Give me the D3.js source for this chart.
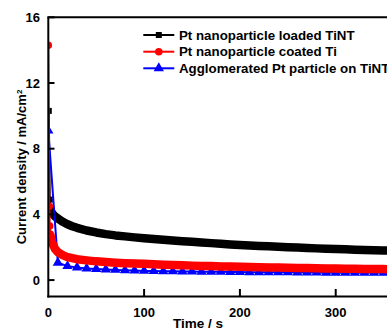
<!DOCTYPE html>
<html lang="en">
<head>
    <meta charset="UTF-8">
    <title>Current density vs time</title>
    <style>
        body {
            margin: 0;
            padding: 0;
            background: #fff;
            font-family: "Liberation Sans", Arial, sans-serif;
        }
        .axis-label, .tick-label, .legend-text {
            font-weight: bold;
            fill: #000;
        }
    </style>
</head>
<body>
    <div id="chart"></div>
    <script src="https://d3js.org/d3.v7.min.js"></script>
    <script>
        // Pt nanoparticle loaded TiNT (black squares)
        const blackTime = [0.5, 1.5, 2, 3, 5, 7, 10, 15, 20, 25, 30, 40, 50, 60, 70, 80, 90, 100, 110, 120, 130, 140, 150,
            160, 170, 180, 190, 200, 210, 220, 230, 240, 250, 260, 270, 280, 290, 300, 310, 320, 330, 340, 350, 360];
        const blackValue = [10.3, 4.9, 4.4, 4.15, 4.0, 3.88, 3.75, 3.55, 3.4, 3.28, 3.18, 3.02, 2.9, 2.8, 2.72, 2.66, 2.6, 2.55,
            2.5, 2.45, 2.41, 2.37, 2.33, 2.29, 2.25, 2.21, 2.17, 2.14, 2.11, 2.08, 2.06, 2.03, 2.0, 1.98, 1.96, 1.93, 1.91,
            1.89, 1.87, 1.85, 1.83, 1.82, 1.8, 1.79];

        // Pt nanoparticle coated Ti (red circles)
        const redTime = [0, 1, 1.5, 2, 3, 4, 5, 7, 10, 15, 20, 30, 40, 50, 60, 70, 80, 90, 100, 110, 120, 130, 140, 150,
            160, 170, 180, 190, 200, 210, 220, 230, 240, 250, 260, 270, 280, 290, 300, 310, 320, 330, 340, 350, 360];
        const redValue = [14.3, 4.5, 3.3, 2.8, 2.5, 2.3, 2.15, 1.9, 1.7, 1.52, 1.4, 1.27, 1.2, 1.14, 1.1, 1.06, 1.03, 1.01,
            0.99, 0.96, 0.94, 0.92, 0.9, 0.88, 0.86, 0.85, 0.83, 0.82, 0.81, 0.79, 0.78, 0.77, 0.76, 0.75, 0.74, 0.73, 0.72,
            0.71, 0.7, 0.69, 0.69, 0.68, 0.67, 0.67, 0.66];

        // Agglomerated Pt particle on TiNT (blue triangles)
        const blueTime = [0, 10, 20, 30, 40, 50, 60, 70, 80, 90, 100, 110, 120, 130, 140, 150, 160, 170, 180, 190, 200,
            210, 220, 230, 240, 250, 260, 270, 280, 290, 300, 310, 320, 330, 340, 350, 360];
        const blueValue = [9.1, 1.06, 0.85, 0.77, 0.71, 0.67, 0.64, 0.62, 0.6, 0.58, 0.56, 0.55, 0.54, 0.53, 0.52, 0.52,
            0.51, 0.5, 0.5, 0.49, 0.49, 0.48, 0.48, 0.47, 0.47, 0.47, 0.46, 0.46, 0.46, 0.45, 0.45, 0.45, 0.44, 0.44, 0.44,
            0.44, 0.43];

        const seriesNames = ["Pt nanoparticle loaded TiNT", "Pt nanoparticle coated Ti", "Agglomerated Pt particle on TiNT"];
        const seriesColors = ["#000000", "#ff0000", "#0000ff"];
        const seriesSymbols = [d3.symbolSquare, d3.symbolCircle, d3.symbolTriangle];

        const yTicks = [0, 4, 8, 12, 16];
        const xTicks = [0, 100, 200, 300];

        const width = 387, height = 331;

        const svg = d3.select("#chart").append("svg")
            .attr("width", width)
            .attr("height", height);

        const x = d3.scaleLinear().domain([0, 360]).range([48.3, 393.2]);
        const y = d3.scaleLinear().domain([-1, 16]).range([296.5, 17.3]);

        svg.append("defs").append("clipPath")
            .attr("id", "plot-clip")
            .append("rect")
            .attr("x", 48).attr("y", 10)
            .attr("width", 360).attr("height", 287);

        const series = [
            { t: blackTime, v: blackValue, band: 2, bandWidth: 8.5, size: 36 },
            { t: redTime, v: redValue, band: 2, bandWidth: 8.5, size: 44 },
            { t: blueTime, v: blueValue, band: null, bandWidth: 0, size: 46 }
        ].map((s, i) => ({
            name: seriesNames[i],
            color: seriesColors[i],
            symbol: seriesSymbols[i],
            band: s.band,
            bandWidth: s.bandWidth,
            size: s.size,
            values: s.t.map((t, j) => ({ t: t, v: s.v[j] }))
        }));

        const line = d3.line()
            .x(d => x(d.t))
            .y(d => y(d.v));

        const plot = svg.append("g").attr("clip-path", "url(#plot-clip)");

        // draw order: black, blue, red on top like the original
        [0, 2, 1].forEach(i => {
            const s = series[i];
            const g = plot.append("g");
            g.append("path")
                .datum(s.values)
                .attr("d", line)
                .attr("fill", "none")
                .attr("stroke", s.color)
                .attr("stroke-width", 2);
            if (s.band !== null) {
                g.append("path")
                    .datum(s.values.filter(d => d.t >= s.band))
                    .attr("d", line)
                    .attr("fill", "none")
                    .attr("stroke", s.color)
                    .attr("stroke-width", s.bandWidth)
                    .attr("stroke-linejoin", "round");
            }
            g.selectAll(".pt")
                .data(s.values)
                .enter().append("path")
                .attr("transform", d => "translate(" + x(d.t) + "," + y(d.v) + ")")
                .attr("d", d3.symbol().type(s.symbol).size(s.size))
                .attr("fill", s.color);
        });

        // frame: left, bottom, top
        svg.append("line")
            .attr("x1", 48.3).attr("x2", 48.3)
            .attr("y1", 17.3).attr("y2", 297.5)
            .attr("stroke", "#000").attr("stroke-width", 2);
        svg.append("line")
            .attr("x1", 47.3).attr("x2", width)
            .attr("y1", 296.5).attr("y2", 296.5)
            .attr("stroke", "#000").attr("stroke-width", 2);
        svg.append("line")
            .attr("x1", 47.3).attr("x2", width)
            .attr("y1", 17.3).attr("y2", 17.3)
            .attr("stroke", "#000").attr("stroke-width", 2);

        // y ticks (inward)
        svg.selectAll(".ytick")
            .data(yTicks)
            .enter().append("line")
            .attr("x1", 48.3).attr("x2", 54.5)
            .attr("y1", d => y(d)).attr("y2", d => y(d))
            .attr("stroke", "#000").attr("stroke-width", 2);
        svg.selectAll(".ylab")
            .data(yTicks)
            .enter().append("text")
            .attr("class", "tick-label")
            .attr("x", 40)
            .attr("y", d => y(d))
            .attr("dy", "0.36em")
            .attr("text-anchor", "end")
            .style("font-size", "13px")
            .text(d => d);

        // x ticks (inward)
        svg.selectAll(".xtick")
            .data(xTicks.filter(d => d > 0))
            .enter().append("line")
            .attr("x1", d => x(d)).attr("x2", d => x(d))
            .attr("y1", 296.5).attr("y2", 289)
            .attr("stroke", "#000").attr("stroke-width", 2);
        svg.selectAll(".xlab")
            .data(xTicks)
            .enter().append("text")
            .attr("class", "tick-label")
            .attr("x", d => x(d))
            .attr("y", 312)
            .attr("dy", "0.36em")
            .attr("text-anchor", "middle")
            .style("font-size", "13px")
            .text(d => d);

        // axis titles
        svg.append("text")
            .attr("class", "axis-label")
            .attr("x", 198)
            .attr("y", 328)
            .attr("text-anchor", "middle")
            .style("font-size", "13.5px")
            .text("Time / s");

        const yTitle = svg.append("text")
            .attr("class", "axis-label")
            .attr("transform", "translate(26,167) rotate(-90)")
            .attr("text-anchor", "middle")
            .style("font-size", "13px");
        yTitle.append("tspan").text("Current density / mA/cm");
        yTitle.append("tspan")
            .attr("dy", "-0.5em")
            .style("font-size", "8px")
            .text("2");

        // legend
        const legend = svg.append("g");
        const legendY = [35, 51.7, 68.3];
        series.forEach((s, i) => {
            const g = legend.append("g").attr("transform", "translate(0," + legendY[i] + ")");
            g.append("line")
                .attr("x1", 143.3).attr("x2", 174.3)
                .attr("y1", 0).attr("y2", 0)
                .attr("stroke", s.color).attr("stroke-width", 2);
            g.append("path")
                .attr("transform", "translate(158.8,0)")
                .attr("d", d3.symbol().type(s.symbol).size(s.size))
                .attr("fill", s.color);
            g.append("text")
                .attr("class", "legend-text")
                .attr("x", 179)
                .attr("y", 0)
                .attr("dy", "0.36em")
                .style("font-size", "13.3px")
                .text(s.name);
        });
    </script>
</body>
</html>
